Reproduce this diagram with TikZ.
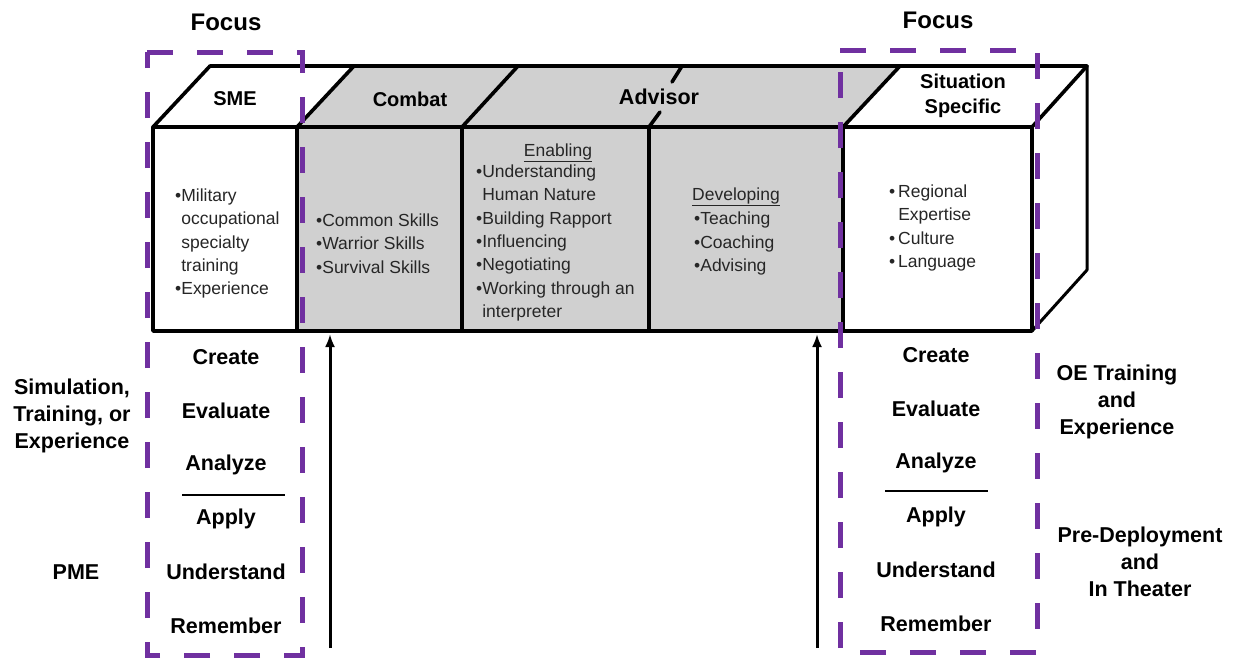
\documentclass[tikz,border=0pt]{standalone}
\usepackage{fontspec}
\setmainfont{Liberation Sans}
\usetikzlibrary{arrows.meta}
\definecolor{boxgray}{HTML}{D0D0D0}
\definecolor{focuspurple}{HTML}{7030A0}
\definecolor{bodytext}{HTML}{262626}
\tikzset{
  edge/.style={line width=3.6pt, line join=round, line cap=round},
  focusbox/.style={draw=focuspurple, line width=5pt, dash pattern=on 26pt off 24pt},
  bodytxt/.style={inner sep=0pt, align=left, text=bodytext, font=\fontsize{17.5}{23.4}\selectfont},
  toplbl/.style={inner sep=0pt, align=center, font=\fontsize{20}{25}\selectfont\bfseries},
  bloom/.style={inner sep=0pt, font=\fontsize{21.5}{27}\selectfont\bfseries},
  sidelbl/.style={inner sep=0pt, align=center, font=\fontsize{21.5}{27}\selectfont\bfseries},
  focuslbl/.style={inner sep=0pt, font=\fontsize{24}{28}\selectfont\bfseries},
  uparrow/.style={line width=3pt, -{Latex[length=13pt,width=10pt]}}
}
\newcommand{\bul}{\textbullet}
\begin{document}
\begin{tikzpicture}[x=1pt, y=-1pt]
\useasboundingbox (0,0) rectangle (1234,657);
% coordinates of the box
\coordinate (FL) at (153,127);
\coordinate (FR) at (1032,127);
\coordinate (BL) at (153,331);
\coordinate (BR) at (1032,331);
\coordinate (TL) at (210,66);
\coordinate (TR) at (1087,66);
\coordinate (RB) at (1087,270);
% fills
\fill[white] (FL) -- (TL) -- (TR) -- (RB) -- (BR) -- (BL) -- cycle;
\fill[boxgray] (297,127) -- (354,66) -- (900,66) -- (843,127) -- cycle;
\fill[boxgray] (297,127) rectangle (843,331);
% outlines
\draw[edge] (FL) rectangle (BR);
\draw[edge] (297,127) -- (297,331);
\draw[edge] (462,127) -- (462,331);
\draw[edge] (649,127) -- (649,331);
\draw[edge] (843,127) -- (843,331);
\draw[edge] (FL) -- (TL) -- (TR) -- (FR);
\draw[edge, line width=3pt] (TR) -- (RB) -- (BR);
\draw[edge] (297,127) -- (354,66);
\draw[edge] (462,127) -- (518,66);
\draw[edge] (843,127) -- (900,66);
\draw[edge] (649,127) -- (660,112);
\draw[edge] (672,82) -- (682,66);
% top labels
\node[toplbl] (sme) at (235,99) {SME};
\node[toplbl] (combat) at (410,99) {Combat};
\node[toplbl, font=\fontsize{21.5}{25}\selectfont\bfseries] (advisor) at (659,97) {Advisor};
\node[toplbl] (situation) at (963,96) {Situation\\Specific};
% front texts
\node[bodytxt, anchor=west] (smetxt) at (175,243.5) {\bul Military\\\phantom{\bul}occupational\\\phantom{\bul}specialty\\\phantom{\bul}training\\\bul Experience};
\node[bodytxt, anchor=west] (combattxt) at (316,243.5) {\bul Common Skills\\\bul Warrior Skills\\\bul Survival Skills};
\node[bodytxt] (enabtitle) at (558,153) {\underline{Enabling}};
\node[bodytxt, anchor=west] (enabtxt) at (476,243) {\bul Understanding\\\phantom{\bul}Human Nature\\\bul Building Rapport\\\bul Influencing\\\bul Negotiating\\\bul Working through an\\\phantom{\bul}interpreter};
\node[bodytxt] (devtitle) at (736,197) {\underline{Developing}};
\node[bodytxt, anchor=west] (devtxt) at (694,243.5) {\bul Teaching\\\bul Coaching\\\bul Advising};
\node[bodytxt, anchor=west] (sittxt) at (889,228) {\bul\,Regional\\\phantom{\bul\,}Expertise\\\bul\,Culture\\\bul\,Language};
% bloom levels left
\node[bloom] (lcreate) at (226,357) {Create};
\node[bloom] (levaluate) at (226,411) {Evaluate};
\node[bloom] (lanalyze) at (226,465) {Analyze};
\node[bloom] (lapply) at (226,519) {Apply};
\node[bloom] (lunderstand) at (226,572) {Understand};
\node[bloom] (lremember) at (226,626) {Remember};
\coordinate (lline1) at (182,495);
\coordinate (lline2) at (285,495);
\draw[line width=1.3pt] (lline1) -- (lline2);
% bloom levels right
\node[bloom] (rcreate) at (936,355) {Create};
\node[bloom] (revaluate) at (936,409) {Evaluate};
\node[bloom] (ranalyze) at (936,463) {Analyze};
\node[bloom] (rapply) at (936,517) {Apply};
\node[bloom] (runderstand) at (936,570) {Understand};
\node[bloom] (rremember) at (936,624) {Remember};
\coordinate (rline1) at (885,491);
\coordinate (rline2) at (988,491);
\draw[line width=1.3pt] (rline1) -- (rline2);
% side labels
\node[sidelbl] (sim) at (72,416) {Simulation,\\Training, or\\Experience};
\node[sidelbl] (pme) at (76,572) {PME};
\node[sidelbl] (oe) at (1117,402) {OE Training\\and\\Experience};
\node[sidelbl] (pre) at (1140,562) {Pre-Deployment\\and\\In Theater};
% focus labels
\node[focuslbl] (focusl) at (226,22) {Focus};
\node[focuslbl] (focusr) at (938,20) {Focus};
% focus boxes
\draw[focusbox] (147,52) -- (302,52) -- (302,655) -- (147,655) -- cycle;
\draw[focusbox] (840,50) -- (1037,50) -- (1037,652) -- (840,652) -- cycle;
% arrows
\coordinate (la0) at (330,648);
\coordinate (la1) at (330,334);
\coordinate (ra0) at (817,648);
\coordinate (ra1) at (817,334);
\draw[uparrow] (la0) -- (la1);
\draw[uparrow] (ra0) -- (ra1);
\end{tikzpicture}
\end{document}
